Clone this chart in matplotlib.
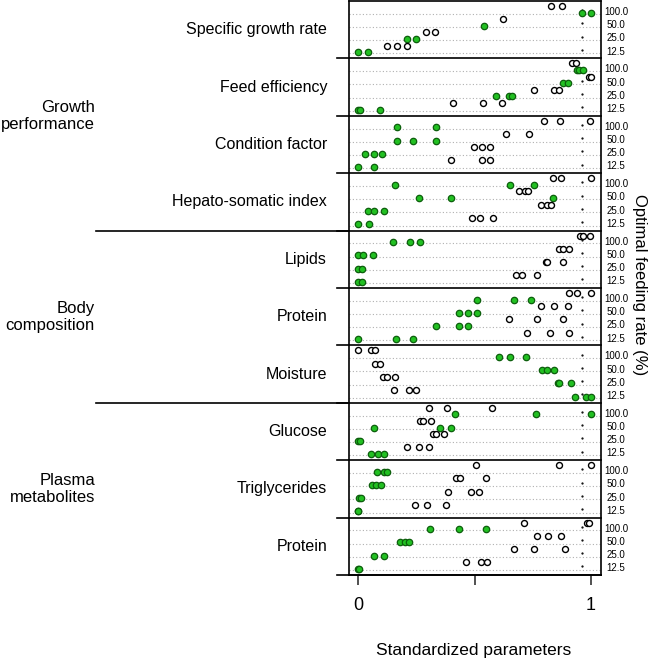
"""
Standardized parameters by feeding rate, grouped dot chart
"""
import matplotlib.pyplot as plt
import matplotlib.transforms as mtransforms

plt.rcParams['font.family'] = ['Liberation Sans', 'DejaVu Sans']

# ------------------- Data: ---------------------------------------------------------
feeding_rates = ['100.0', '50.0', '25.0', '12.5']

panel_names = ['Specific growth rate', 'Feed efficiency', 'Condition factor',
               'Hepato-somatic index', 'Lipids', 'Protein', 'Moisture',
               'Glucose', 'Triglycerides', 'Protein']
group_names = ['Growth\nperformance', 'Body\ncomposition', 'Plasma\nmetabolites']
group_sizes = [4, 3, 3]

# each list: rows for 100.0, 50.0, 25.0, 12.5 % feeding rate
sgr_open = [[0.83, 0.874], [0.624], [0.29, 0.33], [0.126, 0.166, 0.209]]
sgr_green = [[0.96, 1.0], [0.539], [0.209, 0.247], [0.0, 0.041]]

fe_open = [[0.917, 0.936], [0.993, 0.999], [0.757, 0.841, 0.864], [0.408, 0.535, 0.619]]
fe_green = [[0.938, 0.95, 0.964], [0.878, 0.903], [0.592, 0.648, 0.66], [0.0, 0.009, 0.094]]

cf_open = [[0.80, 0.866, 0.997], [0.634, 0.732], [0.496, 0.532, 0.568], [0.398, 0.531, 0.568]]
cf_green = [[0.169, 0.333], [0.169, 0.235, 0.333], [0.031, 0.069, 0.102], [0.0, 0.069]]

hsi_open = [[0.838, 0.87, 0.999], [0.691, 0.718, 0.728], [0.785, 0.811, 0.827], [0.491, 0.525, 0.581]]
hsi_green = [[0.159, 0.654, 0.754], [0.262, 0.398, 0.838], [0.044, 0.069, 0.113], [0.0, 0.046]]

lip_open = [[0.953, 0.964, 0.997], [0.861, 0.881, 0.907], [0.805, 0.813, 0.88], [0.677, 0.705, 0.767]]
lip_green = [[0.15, 0.225, 0.266], [0.0, 0.023, 0.063], [0.0, 0.019], [0.0, 0.019]]

bprot_open = [[0.904, 0.938, 0.999], [0.784, 0.843, 0.903], [0.648, 0.767, 0.88], [0.724, 0.823, 0.904]]
bprot_green = [[0.509, 0.668, 0.741], [0.433, 0.471, 0.509], [0.333, 0.433, 0.471], [0.0, 0.161, 0.236]]

moist_open = [[0.0, 0.054, 0.074], [0.073, 0.094], [0.106, 0.126, 0.159], [0.153, 0.219, 0.247]]
moist_green = [[0.604, 0.654, 0.72], [0.791, 0.81, 0.841], [0.857, 0.863, 0.913], [0.933, 0.979, 0.999]]

glu_open = [[0.303, 0.383, 0.577], [0.266, 0.278, 0.313], [0.323, 0.333, 0.369], [0.209, 0.26, 0.303]]
glu_green = [[0.418, 0.763, 0.999], [0.069, 0.352, 0.399], [0.0, 0.009], [0.054, 0.087, 0.112]]

tg_open = [[0.506, 0.861, 0.999], [0.421, 0.439, 0.549], [0.385, 0.484, 0.518], [0.243, 0.295, 0.379]]
tg_green = [[0.083, 0.113, 0.126], [0.059, 0.077, 0.097], [0.004, 0.011], [0.0, 0.001]]

pprot_open = [[0.714, 0.984, 0.993], [0.767, 0.817, 0.87], [0.671, 0.757, 0.888], [0.464, 0.526, 0.552]]
pprot_green = [[0.31, 0.432, 0.551], [0.18, 0.203, 0.219], [0.069, 0.112], [0.0, 0.006]]

reference_mark = 0.96

open_sets = [sgr_open, fe_open, cf_open, hsi_open, lip_open,
             bprot_open, moist_open, glu_open, tg_open, pprot_open]
green_sets = [sgr_green, fe_green, cf_green, hsi_green, lip_green,
              bprot_green, moist_green, glu_green, tg_green, pprot_green]

# ------------------- Plotting: -----------------------------------------------------
W, H = 654, 660
fig = plt.figure(figsize=(W / 100, H / 100), dpi=100)
ax = fig.add_axes([349 / W, 1 - 575 / H, 252 / W, 574 / H])

n_panels = len(panel_names)
ax.set_xlim(-9 / 233, 1 + 10 / 233)
ax.set_ylim(n_panels, 0)

blend = mtransforms.blended_transform_factory(ax.transAxes, ax.transData)

for i in range(n_panels):
    for j in range(len(feeding_rates)):
        y_open = i + 0.087 + 0.23 * j
        y_green = i + 0.202 + 0.23 * j
        ax.axhline(y_green + 0.02, color='#b0b0b0', lw=0.8, ls=(0, (1, 2)), zorder=1)
        ax.plot(open_sets[i][j], [y_open] * len(open_sets[i][j]), 'o', ms=4.3,
                mfc='white', mec='black', mew=1.0, zorder=3)
        ax.plot(green_sets[i][j], [y_green] * len(green_sets[i][j]), 'o', ms=4.6,
                mfc='#22c022', mec='#0c5e0c', mew=0.9, zorder=3)
        ax.plot(reference_mark, i + 0.16 + 0.23 * j, '.', ms=1.2, color='black')
        ax.text(1.06, y_green - 0.01, feeding_rates[j], transform=blend,
                ha='center', va='center', fontsize=7)
    ax.text(-0.087, i + 0.5, panel_names[i], transform=blend,
            ha='right', va='center', fontsize=11.5)
    # panel separators
    ax.plot([-0.0476, 1], [i + 1, i + 1], transform=blend, color='black',
            lw=1.2, clip_on=False, zorder=4)

start = 0
for name, size in zip(group_names, group_sizes):
    ax.text(-1.008, start + size / 2, name, transform=blend, ha='right',
            va='center', multialignment='right', fontsize=12)
    start += size
    if start < n_panels:
        ax.plot([-1.004, 0], [start, start], transform=blend, color='black',
                lw=1.2, clip_on=False)

for sp in ax.spines.values():
    sp.set_linewidth(1.2)

ax.set_yticks([])
ax.set_xticks([0, 0.5, 1])
ax.set_xticklabels(['0', '', '1'])
ax.tick_params(axis='x', length=7.5, width=1.2, labelsize=13, pad=8, color='#333333')

fig.text(474 / W, 1 - 650 / H, 'Standardized parameters', ha='center', va='center', fontsize=12.5)
fig.text(640 / W, 1 - 285 / H, 'Optimal feeding rate (%)', ha='center', va='center',
         rotation=270, fontsize=12)

fig.savefig('out.png', dpi=100)
